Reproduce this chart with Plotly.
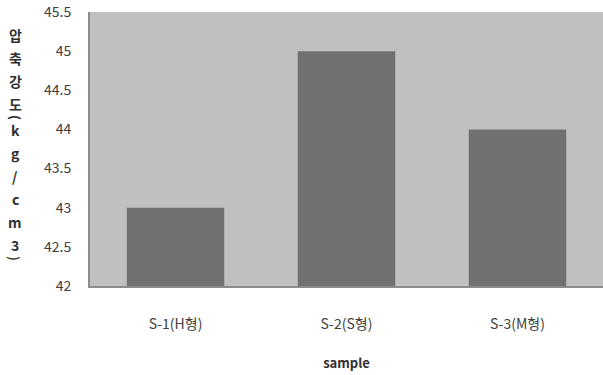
import plotly.graph_objects as go

# Compressive strength by sample type
categories = ["S-1(H형)", "S-2(S형)", "S-3(M형)"]
strength = [43.0, 45.0, 44.0]
y_title_chars = ["압", "축", "강", "도", "(", "k", "g", "/", "c", "m", "3", ")"]

font_family = "Noto Sans CJK KR, Noto Sans, sans-serif"

fig = go.Figure(
    go.Bar(
        x=categories,
        y=strength,
        marker=dict(color="#707070", line=dict(width=0)),
        width=0.57,
    )
)

fig.update_layout(
    width=603,
    height=375,
    margin=dict(l=90, r=0, t=12, b=89),
    paper_bgcolor="white",
    plot_bgcolor="#c0c0c0",
    showlegend=False,
    font=dict(family=font_family, size=14, color="#404040"),
)

fig.update_yaxes(
    range=[42, 45.5],
    dtick=0.5,
    showgrid=False,
    showline=True,
    linecolor="#8c8c8c",
    linewidth=2,
    ticks="",
    ticklabelstandoff=14,
    zeroline=False,
)
fig.update_xaxes(
    showgrid=False,
    showline=True,
    linecolor="#8c8c8c",
    linewidth=2,
    ticks="",
    ticklabelstandoff=24,
    title=dict(text="<b>sample</b>", font=dict(size=13, color="#303030"), standoff=27),
)

# Vertical stacked y-axis title, one character per line;
# parentheses are turned sideways and take a half step
plot_h = 375 - 12 - 89
y_px = 35
for ch in y_title_chars:
    paren = ch in ("(", ")")
    if paren:
        y_px -= 10
    fig.add_annotation(
        text=f"<b>{ch}</b>",
        xref="paper",
        yref="paper",
        x=(15 - 90) / (603 - 90),
        y=1 - (y_px - 12) / plot_h,
        showarrow=False,
        xanchor="center",
        yanchor="middle",
        textangle=90 if paren else 0,
        font=dict(size=13 if paren else 14, color="#303030", family=font_family),
    )
    y_px += 13 if paren else 23

fig.write_html("out.html")
